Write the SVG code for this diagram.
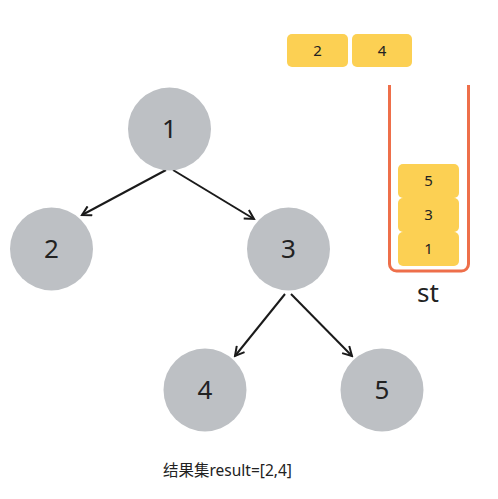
<svg xmlns="http://www.w3.org/2000/svg" width="498" height="499" viewBox="0 0 498 499">
<defs>
<marker id="arr" markerWidth="12" markerHeight="12" refX="10" refY="6" orient="auto" markerUnits="userSpaceOnUse">
<path d="M1,1 L10,6 L1,11" fill="none" stroke="#1a1a1a" stroke-width="2"/>
</marker>
<style>
.node circle{fill:#bdc0c4}
.node text{font-family:"Noto Sans","Liberation Sans",sans-serif;font-size:26px;fill:#222;text-anchor:middle}
.box rect{fill:#fcd053}
.box text{font-family:"Noto Sans","Liberation Sans",sans-serif;font-size:15px;fill:#222;text-anchor:middle}
.edge{stroke:#1a1a1a;stroke-width:2;fill:none;marker-end:url(#arr)}
</style>
</defs>
<rect width="498" height="499" fill="#fff"/>
<g id="connectors">
<line class="edge" x1="166" y1="170" x2="82" y2="215"/>
<line class="edge" x1="173" y1="170" x2="254" y2="219"/>
<line class="edge" x1="285" y1="294" x2="235" y2="356"/>
<line class="edge" x1="291" y1="294" x2="352" y2="356"/>
</g>
<g id="n1" class="node"><circle cx="169.5" cy="129" r="41.5"/><text x="169.5" y="138">1</text></g>
<g id="n2" class="node"><circle cx="51.5" cy="249" r="41.5"/><text x="51.5" y="258">2</text></g>
<g id="n3" class="node"><circle cx="288.5" cy="249" r="41.5"/><text x="288.5" y="258">3</text></g>
<g id="n4" class="node"><circle cx="205" cy="390" r="41.5"/><text x="205" y="399">4</text></g>
<g id="n5" class="node"><circle cx="382" cy="390" r="41.5"/><text x="382" y="399">5</text></g>
<g id="result-2" class="box"><rect x="287" y="34" width="61" height="33" rx="5"/><text x="317.5" y="56">2</text></g>
<g id="result-4" class="box"><rect x="352" y="34" width="60" height="33" rx="5"/><text x="382" y="56">4</text></g>
<g id="stack">
<path d="M389.5,85 V264 a7,7 0 0 0 7,7 H461.5 a7,7 0 0 0 7,-7 V85" fill="none" stroke="#ee6f4a" stroke-width="3"/>
</g>
<g id="st5" class="box"><rect x="398" y="164" width="61" height="34" rx="5"/><text x="428.5" y="186">5</text></g>
<g id="st3" class="box"><rect x="398" y="198" width="61" height="34" rx="5"/><text x="428.5" y="220">3</text></g>
<g id="st1" class="box"><rect x="398" y="232" width="61" height="34" rx="5"/><text x="428.5" y="254">1</text></g>
<text x="428" y="302" font-family="Noto Sans, Liberation Sans, sans-serif" font-size="26" fill="#222" text-anchor="middle">st</text>
<text x="163" y="476" font-family="Noto Sans, Noto Sans CJK SC, sans-serif" font-size="15.5" fill="#222">结果集result=[2,4]</text>
</svg>
